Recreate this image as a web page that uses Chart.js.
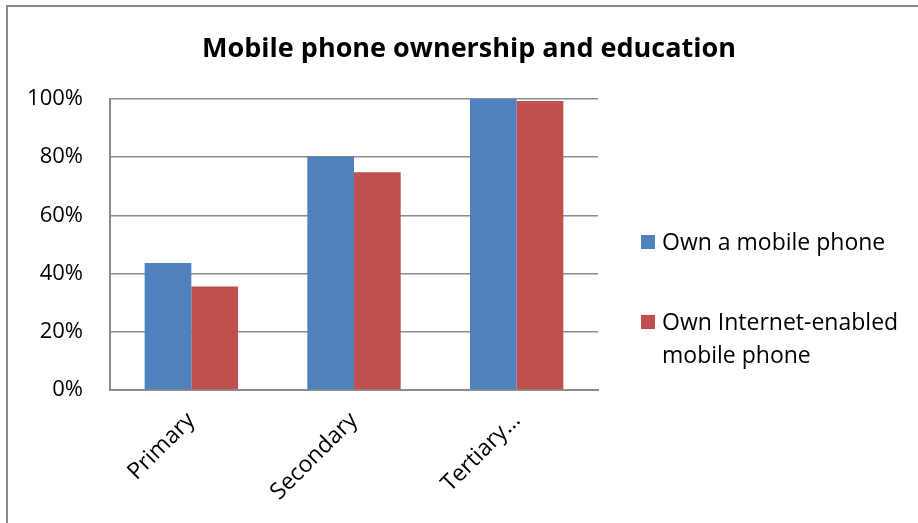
<!DOCTYPE html>
<html>
<head>
<meta charset="utf-8">
<script src="https://cdn.jsdelivr.net/npm/chart.js@4.4.1/dist/chart.umd.min.js"></script>
<style>
  html, body { margin: 0; padding: 0; background: #fff; }
  #wrap { width: 918px; height: 523px; }
</style>
</head>
<body>
<div id="wrap"><canvas id="chart" width="918" height="523"></canvas></div>
<script>
const title = 'Mobile phone ownership and education'
const categories = ['Primary', 'Secondary', 'Tertiary…']
const ownPhone = [43.6, 80.2, 100]
const ownInternetPhone = [35.6, 74.8, 99.3]
const seriesNames = ['Own a mobile phone', ['Own Internet-enabled', 'mobile phone']]
const yTicks = [0, 20, 40, 60, 80, 100]

const blue = '#4f81bd'
const red = '#c0504d'
const gridGrey = '#8c8c8c'
const font = "'Open Sans', 'DejaVu Sans', sans-serif"

// frame, title and the side legend are painted straight onto the canvas
const decorations = {
  id: 'decorations',
  beforeDraw(chart) {
    let ctx = chart.ctx
    ctx.save()
    ctx.fillStyle = '#fff'
    ctx.fillRect(0, 0, chart.width, chart.height)
    ctx.strokeStyle = '#8a8a8a'
    ctx.lineWidth = 2
    ctx.beginPath()
    ctx.moveTo(7, chart.height)
    ctx.lineTo(7, 6)
    ctx.lineTo(chart.width, 6)
    ctx.stroke()
    ctx.restore()
  },
  afterDraw(chart) {
    let ctx = chart.ctx
    ctx.save()
    ctx.fillStyle = '#000'
    ctx.textAlign = 'center'
    ctx.textBaseline = 'alphabetic'
    ctx.font = 'bold 27px ' + font
    ctx.fillText(title, 469, 57)

    ctx.textAlign = 'left'
    ctx.font = '23px ' + font
    let rows = [250, 330]
    chart.data.datasets.forEach((ds, i) => {
      let y = rows[i]
      ctx.fillStyle = ds.backgroundColor
      ctx.fillRect(641, y - 15, 14, 14)
      ctx.fillStyle = '#000'
      let lines = [].concat(seriesNames[i])
      lines.forEach((line, j) => ctx.fillText(line, 662, y + j * 33))
    })
    ctx.restore()
  }
}

new Chart(document.getElementById('chart'), {
  type: 'bar',
  data: {
    labels: categories,
    datasets: [
      { label: 'Own a mobile phone', data: ownPhone, backgroundColor: blue },
      { label: 'Own Internet-enabled mobile phone', data: ownInternetPhone, backgroundColor: red }
    ]
  },
  options: {
    responsive: false,
    animation: false,
    layout: { padding: { top: 99, right: 320, left: 0, bottom: 0 } },
    datasets: { bar: { categoryPercentage: 0.574, barPercentage: 1 } },
    plugins: {
      legend: { display: false },
      title: { display: false },
      tooltip: { enabled: false }
    },
    scales: {
      x: {
        grid: { display: false, drawTicks: false },
        border: { display: true, color: gridGrey, width: 2 },
        ticks: {
          color: '#000',
          font: { family: font, size: 23 },
          minRotation: 45,
          maxRotation: 45,
          padding: 17
        },
        afterFit(scale) { scale.height = 133 }
      },
      y: {
        min: 0,
        max: 100,
        afterBuildTicks(scale) { scale.ticks = yTicks.map(v => ({ value: v })) },
        grid: { color: gridGrey, lineWidth: 1.5, drawTicks: false },
        border: { display: true, color: gridGrey, width: 2 },
        ticks: {
          color: '#000',
          font: { family: font, size: 22 },
          padding: 27,
          callback: v => v + '%'
        },
        afterFit(scale) { scale.width = 110 }
      }
    }
  },
  plugins: [decorations]
})
</script>
</body>
</html>
